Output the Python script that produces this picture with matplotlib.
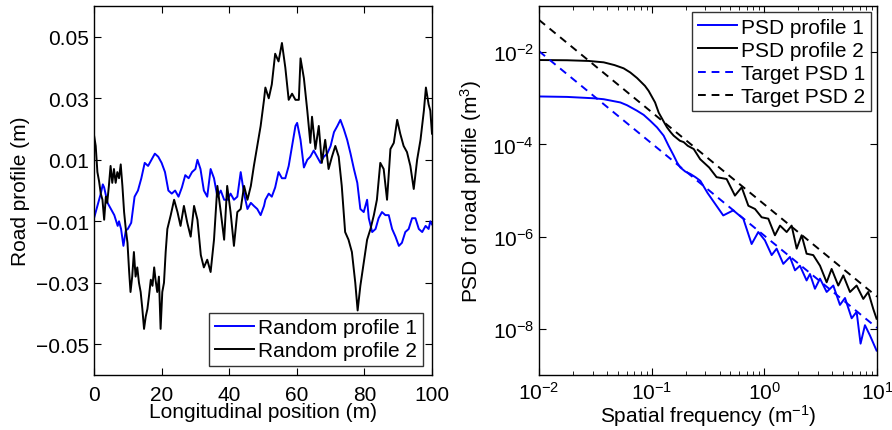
import numpy as np
import matplotlib
matplotlib.use("Agg")
import matplotlib.pyplot as plt
from matplotlib.ticker import LogLocator, NullLocator, FixedLocator

plt.rcParams['font.family'] = ['Liberation Sans', 'DejaVu Sans']
plt.rcParams['mathtext.fontset'] = 'custom'
plt.rcParams['mathtext.rm'] = 'Liberation Sans'
plt.rcParams['mathtext.it'] = 'Liberation Sans:italic'
plt.rcParams['mathtext.default'] = 'regular'

# ---- road profiles ----
x_prof1 = [0, 1, 2, 2.6, 3, 4, 5, 6, 7, 7.4, 8, 8.7, 9.4, 10, 11, 12, 13, 14, 15, 16, 17, 18,
           19, 20, 21, 22, 23, 24, 25, 26, 27, 28, 29, 30, 30.6, 31.5, 32.5, 33.5, 34.5, 35.5,
           36.5, 37.5, 38.5, 39.5, 40.4, 41.4, 42.4, 43.4, 44.4, 45.4, 46.4, 47.3, 48.3, 49.3,
           50.3, 50.7, 51.7, 52.6, 53.6, 54.6, 55.6, 56.6, 57.6, 58.6, 59.6, 60.1, 61.1, 62.1,
           63.1, 64, 65, 66, 67, 68, 69, 70, 71, 72, 72.9, 73.9, 74.9, 75.9, 76.9, 77.9, 78.8,
           79.8, 80.8, 81.3, 82.3, 83.3, 84.2, 85.2, 86.2, 87.2, 88.2, 89.2, 90.2, 91.1, 92.1,
           93.1, 94.1, 95.1, 96.1, 97.1, 98.1, 99, 99.5, 100]
y_prof1 = [-0.009, -0.005, -0.001, 0.002, 0.001, -0.004, -0.006, -0.008, -0.0115, -0.010,
           -0.0125, -0.018, -0.013, -0.0125, -0.0105, -0.002, 0.0, 0.004, 0.009, 0.008, 0.010,
           0.012, 0.011, 0.009, 0.006, 0.0, -0.001, 0.0, -0.002, 0.001, 0.005, 0.004, 0.006,
           0.007, 0.010, 0.007, 0.0, -0.002, 0.007, 0.004, -0.002, 0.0, -0.003, -0.003, -0.001,
           -0.003, -0.002, 0.006, -0.001, -0.006, -0.004, -0.005, -0.006, -0.008, -0.005,
           -0.003, -0.001, -0.002, 0.001, 0.006, 0.004, 0.004, 0.008, 0.0145, 0.021, 0.022,
           0.0165, 0.0075, 0.010, 0.011, 0.013, 0.011, 0.009, 0.011, 0.012, 0.0145, 0.019,
           0.021, 0.023, 0.020, 0.0165, 0.012, 0.007, 0.0025, -0.006, -0.007, -0.003, -0.009,
           -0.0135, -0.0125, -0.009, -0.007, -0.008, -0.008, -0.0125, -0.015, -0.018, -0.017,
           -0.0135, -0.0125, -0.009, -0.009, -0.0125, -0.0135, -0.0115, -0.0125, -0.010, -0.011]

x_prof2 = [0, 0.5, 1, 1.5, 2, 2.5, 3, 3.5, 3.9, 4.4, 4.9, 5.4, 5.9, 6.4, 6.9, 7.4, 7.9, 8.4,
           8.9, 9.4, 9.9, 10.4, 10.8, 11.3, 11.8, 12.3, 12.8, 13.3, 13.8, 14.3, 14.8, 15.3,
           15.8, 16.3, 16.8, 17.3, 17.8, 18.2, 18.7, 19.2, 19.7, 20.2, 20.7, 21.2, 21.7, 22.7,
           23.7, 24.7, 25.6, 26.6, 27.6, 28.6, 29.6, 30.6, 31.6, 32.5, 33.5, 34.5, 35.5, 36.5,
           37.5, 38.5, 39.4, 40.4, 41.4, 42.4, 43.4, 44.4, 45.4, 46.4, 47.3, 48.3, 49.3, 50.3,
           50.7, 51.7, 52.6, 53.6, 54.6, 55.6, 56.6, 57.6, 58.6, 59.6, 60.6, 61.1, 62.1, 63.1,
           64, 64.5, 65.5, 66.5, 67.4, 68.4, 69.4, 70.4, 71.4, 72.4, 73.3, 74.3, 75.3, 76.3,
           77.3, 78, 78.8, 79.8, 80.8, 81.8, 82.8, 83.7, 84.7, 85.7, 86.7, 87.7, 88.7, 89.7,
           90.6, 91.6, 92.6, 93.6, 94.6, 95.6, 96.6, 97.6, 98.2, 99, 99.5, 100]
y_prof2 = [0.018, 0.0145, 0.006, 0.003, -0.001, -0.003, -0.0095, -0.002, -0.004, 0.0015,
           0.008, 0.0025, 0.007, 0.0025, 0.006, 0.004, 0.0085, 0.0015, -0.007, -0.0125, -0.017,
           -0.0265, -0.033, -0.028, -0.020, -0.028, -0.025, -0.030, -0.033, -0.0385, -0.045,
           -0.041, -0.0385, -0.034, -0.029, -0.031, -0.025, -0.029, -0.033, -0.028, -0.045,
           -0.033, -0.030, -0.020, -0.0125, -0.008, -0.003, -0.007, -0.0115, -0.005, -0.0105,
           -0.015, -0.005, -0.0095, -0.021, -0.025, -0.0225, -0.0265, -0.016, 0.0015, -0.007,
           -0.016, 0.0015, -0.007, -0.018, -0.007, -0.006, 0.0015, -0.003, 0.0015, 0.008,
           0.0145, 0.021, 0.0295, 0.0335, 0.030, 0.0345, 0.0445, 0.042, 0.048, 0.040, 0.0295,
           0.0315, 0.0295, 0.0295, 0.043, 0.0365, 0.026, 0.0155, 0.024, 0.0135, 0.021, 0.009,
           0.0165, 0.007, 0.011, 0.0145, 0.011, 0.0015, -0.0135, -0.016, -0.020, -0.030,
           -0.039, -0.031, -0.0235, -0.016, -0.0125, -0.008, -0.003, 0.009, 0.007, -0.003,
           0.0135, 0.0155, 0.023, 0.0185, 0.0145, 0.0125, 0.008, 0.0005, 0.010, 0.0165, 0.026,
           0.0335, 0.028, 0.026, 0.0185]

# ---- PSD curves (log10 values) ----
logf_psd1 = [-2.0, -1.75, -1.51, -1.426, -1.278, -1.219, -1.13, -1.071, -1.012, -0.953,
             -0.894, -0.85, -0.805, -0.775, -0.746, -0.701, -0.657, -0.612, -0.568,
             -0.505, -0.365, -0.276, -0.187, -0.113, -0.054, 0.005, 0.065, 0.109, 0.168,
             0.227, 0.272, 0.316, 0.375, 0.405, 0.449, 0.494, 0.553, 0.612, 0.671, 0.716,
             0.775, 0.819, 0.854, 0.893, 0.937, 0.996]
logp_psd1 = [-2.96, -2.97, -3.00, -3.02, -3.09, -3.15, -3.27, -3.36, -3.49, -3.63,
             -3.81, -4.03, -4.24, -4.39, -4.50, -4.59, -4.64, -4.71, -4.79,
             -5.05, -5.54, -5.43, -5.61, -6.16, -5.90, -6.08, -6.40, -6.26, -6.59,
             -6.44, -6.73, -6.63, -6.95, -6.81, -7.13, -6.91, -7.20, -7.06, -7.48, -7.33,
             -7.77, -7.63, -8.32, -7.92, -8.14, -8.47]

logf_psd2 = [-2.0, -1.75, -1.56, -1.426, -1.33, -1.249, -1.19, -1.13, -1.06, -1.027,
             -0.97, -0.938, -0.89, -0.864, -0.83, -0.805, -0.75, -0.716, -0.68, -0.627,
             -0.57, -0.49, -0.424, -0.335, -0.261, -0.201, -0.142, -0.083, -0.024, 0.035,
             0.094, 0.139, 0.198, 0.242, 0.287, 0.331, 0.375, 0.434, 0.494, 0.553, 0.597,
             0.656, 0.701, 0.760, 0.819, 0.878, 0.922, 0.967, 0.996]
logp_psd2 = [-2.17, -2.175, -2.19, -2.22, -2.28, -2.35, -2.44, -2.56, -2.73, -2.84,
             -3.09, -3.31, -3.52, -3.63, -3.74, -3.81, -3.92, -3.95, -4.03, -4.10,
             -4.32, -4.50, -4.71, -4.75, -5.11, -4.93, -5.33, -5.40, -5.58, -5.61,
             -5.97, -5.76, -5.90, -5.76, -6.26, -5.97, -6.37, -6.40, -6.63, -6.99, -6.70,
             -7.06, -6.84, -7.20, -7.06, -7.35, -7.20, -7.57, -7.78]

f_target = [0.01, 10]
target1 = [1.05e-2, 1.05e-8]
target2 = [5e-2, 5e-8]

fig = plt.figure(figsize=(8.92, 4.31), dpi=100)
ax1 = fig.add_axes([0.1054, 0.1276, 0.3789, 0.856])
ax2 = fig.add_axes([0.6043, 0.1276, 0.3789, 0.856])

lw = 1.4
fs = 15

ax1.plot(x_prof1, y_prof1, color='#0000ff', lw=lw, label='Random profile 1')
ax1.plot(x_prof2, y_prof2, color='black', lw=lw, label='Random profile 2')
ax1.set_xlim(0, 100)
ax1.set_ylim(-0.06, 0.06)
ax1.set_xticks([0, 20, 40, 60, 80, 100])
ax1.set_yticks([-0.05, -0.03, -0.01, 0.01, 0.03, 0.05])
ax1.set_yticklabels(['\u22120.05', '\u22120.03', '\u22120.01', '0.01', '0.03', '0.05'])
ax1.set_xlabel('Longitudinal position (m)', fontsize=fs, labelpad=-1)
ax1.set_ylabel('Road profile (m)', fontsize=fs, labelpad=4)

ax2.loglog(10 ** np.array(logf_psd1), 10 ** np.array(logp_psd1), color='#0000ff', lw=lw,
           label='PSD profile 1')
ax2.loglog(10 ** np.array(logf_psd2), 10 ** np.array(logp_psd2), color='black', lw=lw,
           label='PSD profile 2')
ax2.loglog(f_target, target1, color='#0000ff', lw=lw, ls=(0, (4, 3)), label='Target PSD 1')
ax2.loglog(f_target, target2, color='black', lw=lw, ls=(0, (4, 3)), label='Target PSD 2')
ax2.set_xlim(1e-2, 1e1)
ax2.set_ylim(1e-9, 1e-1)
ax2.yaxis.set_major_locator(FixedLocator([1e-8, 1e-6, 1e-4, 1e-2]))
ax2.yaxis.set_minor_locator(NullLocator())
ax2.xaxis.set_major_locator(FixedLocator([1e-2, 1e-1, 1e0, 1e1]))
ax2.xaxis.set_minor_locator(LogLocator(base=10, subs=np.arange(2, 10)))
ax2.set_xlabel('Spatial frequency (m$^{-1}$)', fontsize=fs, labelpad=0)
ax2.set_ylabel('PSD of road profile (m$^3$)', fontsize=fs, labelpad=6)

for ax, loc, bpad in ((ax1, 'lower right', 0.45), (ax2, 'upper right', 0.3)):
    leg = ax.legend(loc=loc, fontsize=fs, frameon=True, fancybox=False,
                    handlelength=1.9, handletextpad=0.2, borderpad=0.25,
                    labelspacing=0.2, borderaxespad=bpad)
    leg.get_frame().set_edgecolor('black')
    leg.get_frame().set_linewidth(1.0)
    ax.tick_params(which='both', direction='in', top=True, right=True, labelsize=fs)
    ax.tick_params(which='major', length=5)
    ax.tick_params(which='minor', length=3)
    for s in ax.spines.values():
        s.set_linewidth(1.0)
ax1.tick_params(axis='x', which='major', pad=7)
ax2.tick_params(axis='x', which='major', pad=4)

fig.savefig('out.png', dpi=100)
